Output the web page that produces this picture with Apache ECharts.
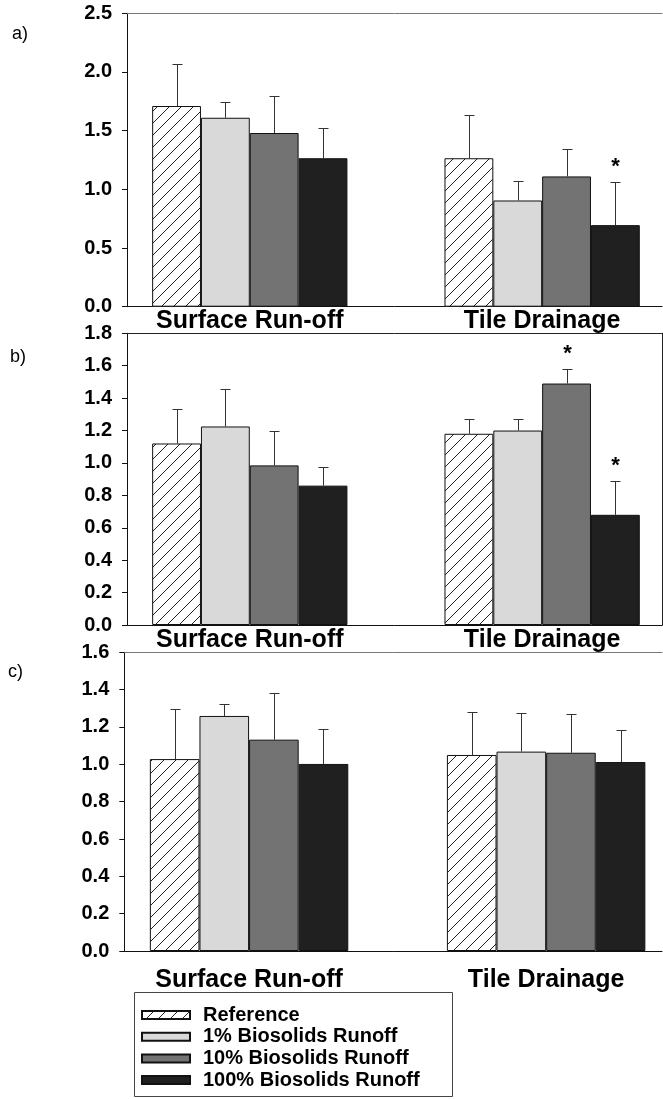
<!DOCTYPE html>
<html><head><meta charset="utf-8">
<script src="https://cdn.jsdelivr.net/npm/echarts@6/dist/echarts.min.js"></script>
<style>html,body{margin:0;padding:0;background:#fff}#chart{width:663px;height:1099px}</style>
</head><body><div id="chart"></div>
<script>
// ---------------- data ----------------
const categories = ['Surface Run-off', 'Tile Drainage'];
const seriesNames = ['Reference', '1% Biosolids Runoff', '10% Biosolids Runoff', '100% Biosolids Runoff'];
const panelLabels = ['a)', 'b)', 'c)'];

// panel a: mean per series [Surface Run-off, Tile Drainage]
const meansA = [[1.71, 1.265], [1.61, 0.905], [1.48, 1.11], [1.265, 0.695]];
const errsA  = [[0.36, 0.37], [0.135, 0.17], [0.315, 0.235], [0.26, 0.37]];
const sigA   = [[0, 0], [0, 0], [0, 0], [0, 1]];
const yTicksA = [0, 2.5, 0.5];

// panel b
const meansB = [[1.12, 1.18], [1.225, 1.20], [0.985, 1.49], [0.86, 0.68]];
const errsB  = [[0.21, 0.09], [0.23, 0.07], [0.215, 0.088], [0.113, 0.21]];
const sigB   = [[0, 0], [0, 0], [0, 1], [0, 1]];
const yTicksB = [0, 1.8, 0.2];

// panel c
const meansC = [[1.028, 1.05], [1.259, 1.068], [1.132, 1.062], [1.002, 1.012]];
const errsC  = [[0.27, 0.228], [0.062, 0.209], [0.25, 0.209], [0.189, 0.17]];
const sigC   = [[0, 0], [0, 0], [0, 0], [0, 0]];
const yTicksC = [0, 1.6, 0.2];

// ---------------- style / layout ----------------
const FONT = '"Liberation Sans", Arial, Helvetica, sans-serif';
function hatchPattern() {
  const c = document.createElement('canvas');
  c.width = 12; c.height = 12;
  const g = c.getContext('2d');
  g.fillStyle = '#fff'; g.fillRect(0, 0, 12, 12);
  g.strokeStyle = '#222'; g.lineWidth = 1;
  g.beginPath();
  [-12, 0, 12].forEach(k => { g.moveTo(k - 1, 13); g.lineTo(k + 13, -1); });
  g.stroke();
  return c;
}
const fills = [{ image: hatchPattern(), repeat: 'repeat' }, '#d9d9d9', '#737373', '#202020'];
const BAR_FRAC = 0.167;

const panels = [
  { means: meansA, errs: errsA, sig: sigA, ticks: yTicksA, left: 127, top: 13.3, height: 293.4, xMin: -0.42, xMax: 1.41, labelMargin: 2, topColor: '#777', box: false, labelY: 35, labelX: 12 },
  { means: meansB, errs: errsB, sig: sigB, ticks: yTicksB, left: 127, top: 333.3, height: 291.7, xMin: -0.42, xMax: 1.41, labelMargin: 3, topColor: '#222', box: true, labelY: 358, labelX: 10 },
  { means: meansC, errs: errsC, sig: sigC, ticks: yTicksC, left: 124.3, top: 652.3, height: 298.7, xMin: -0.42, xMax: 1.39, labelMargin: 17, topColor: '#777', box: false, labelY: 673, labelX: 8 }
];

const grid = [], xAxis = [], yAxis = [], series = [], graphic = [];
panels.forEach((p, i) => {
  grid.push({ left: p.left, top: p.top, height: p.height, right: 1, containLabel: false });
  xAxis.push({
    type: 'value', gridIndex: i, min: p.xMin, max: p.xMax, position: 'bottom',
    axisLine: { show: true, onZero: false, lineStyle: { color: '#111', width: 1 } },
    axisTick: { show: false }, splitLine: { show: false },
    axisLabel: {
      show: true, customValues: [0, 1], margin: p.labelMargin,
      formatter: v => categories[Math.round(v)] || '',
      fontFamily: FONT, fontWeight: 'bold', fontSize: 25, color: '#000'
    }
  });
  xAxis.push({
    type: 'value', gridIndex: i, min: p.xMin, max: p.xMax, position: 'top',
    axisLine: { show: true, onZero: false, lineStyle: { color: p.topColor, width: 1 } },
    axisTick: { show: false }, axisLabel: { show: false }, splitLine: { show: false }
  });
  yAxis.push({
    type: 'value', gridIndex: i, min: p.ticks[0], max: p.ticks[1], interval: p.ticks[2], position: 'left',
    axisLine: { show: true, onZero: false, lineStyle: { color: '#111', width: 1 } },
    axisTick: { show: true, length: 5, lineStyle: { color: '#111' } },
    splitLine: { show: false },
    axisLabel: { margin: 15, formatter: v => v.toFixed(1), fontFamily: FONT, fontWeight: 'bold', fontSize: 20, color: '#000' }
  });
  yAxis.push({
    type: 'value', gridIndex: i, min: p.ticks[0], max: p.ticks[1], position: 'right',
    axisLine: { show: p.box, onZero: false, lineStyle: { color: '#222', width: 1 } },
    axisTick: { show: false }, axisLabel: { show: false }, splitLine: { show: false }
  });
  seriesNames.forEach((name, s) => {
    series.push({
      type: 'bar', name, xAxisIndex: 2 * i, yAxisIndex: 2 * i,
      data: categories.map((c, k) => [k, p.means[s][k]]),
      barWidth: (BAR_FRAC * 100) + '%', barGap: '0%',
      itemStyle: { color: fills[s], borderColor: '#111', borderWidth: 1 },
      silent: true
    });
  });
  const errData = [];
  seriesNames.forEach((name, s) => categories.forEach((c, k) => {
    errData.push([k, s, p.means[s][k], p.errs[s][k], p.sig[s][k]]);
  }));
  series.push({
    type: 'custom', xAxisIndex: 2 * i, yAxisIndex: 2 * i, silent: true, z: 5,
    encode: { x: 0, y: 2 }, data: errData,
    renderItem: (params, api) => {
      const k = api.value(0), s = api.value(1), m = api.value(2), e = api.value(3), sig = api.value(4);
      const bw = api.size([1, 0])[0] * BAR_FRAC;
      const base = api.coord([k, m]);
      const top = api.coord([k, m + e]);
      const x = Math.round(base[0] + (s - 1.5) * bw) + 0.5;
      const yt = Math.round(top[1]) + 0.5;
      const children = [
        { type: 'line', shape: { x1: x, y1: base[1], x2: x, y2: yt }, style: { stroke: '#333', lineWidth: 1 } },
        { type: 'line', shape: { x1: x - 5, y1: yt, x2: x + 5, y2: yt }, style: { stroke: '#333', lineWidth: 1 } }
      ];
      if (sig) children.push({ type: 'text', style: { text: '*', x: x, y: yt - 16, align: 'center', verticalAlign: 'middle', font: 'bold 22px ' + FONT, fill: '#000' } });
      return { type: 'group', children };
    }
  });
  graphic.push({ type: 'text', left: p.labelX, top: p.labelY - 10, style: { text: panelLabels[i], font: '18px ' + FONT, fill: '#000' } });
});

graphic.push({ type: 'rect', shape: { x: 134.5, y: 992.5, width: 318, height: 104 }, style: { fill: 'none', stroke: '#444', lineWidth: 1 }, silent: true });

const chart = echarts.init(document.getElementById('chart'), null, { renderer: 'canvas' });
chart.setOption({
  animation: false,
  backgroundColor: '#fff',
  grid, xAxis, yAxis, series, graphic,
  legend: {
    data: seriesNames, orient: 'vertical', left: 141, top: 1005, padding: 0,
    itemWidth: 48, itemHeight: 8, itemGap: 1.7, icon: 'rect', selectedMode: false,
    textStyle: { fontFamily: FONT, fontWeight: 'bold', fontSize: 20, lineHeight: 20, color: '#000', padding: [0, 0, 0, 8] }
  }
});
</script></body></html>
